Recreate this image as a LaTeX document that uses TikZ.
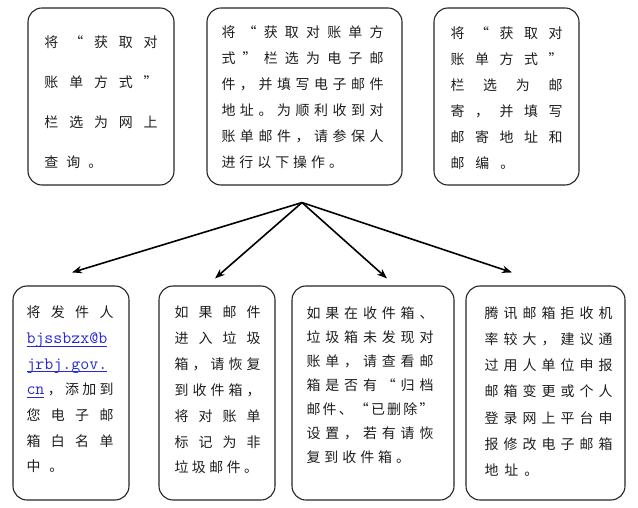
\documentclass[tikz,border=0pt]{standalone}
\usepackage{fontspec}
\setmainfont{Noto Sans CJK SC}
\usetikzlibrary{arrows.meta}
\definecolor{txtcol}{RGB}{30,30,30}
\definecolor{linkcol}{RGB}{40,40,215}
\makeatletter
\def\spl@end{\spl@end}
\newcommand\spl[1]{\leavevmode\hbox to\linewidth{\spl@a#1\spl@end}}
\def\spl@a#1{#1\spl@b}
\def\spl@b#1{\ifx#1\spl@end\else\hfill#1\expandafter\spl@b\fi}
\newcommand\lsp[2]{\leavevmode\def\lsp@k{#1}\lsp@a#2\spl@end}
\def\lsp@a#1{#1\lsp@b}
\def\lsp@b#1{\ifx#1\spl@end\else\kern\lsp@k\relax#1\expandafter\lsp@b\fi}
\makeatother
\newcommand\email[1]{\leavevmode{\color{linkcol}\ttfamily\fontsize{17.5}{25.8}\selectfont\setbox0\hbox{#1}\rlap{\vrule width\wd0 height-2.2pt depth3pt}\box0}}
\begin{document}
\begin{tikzpicture}[x=1bp,y=-1bp,
  box/.style={draw=black!85, line width=1.1bp, rounded corners=14bp, inner sep=0pt},
  txtnode/.style={inner sep=0pt, align=left, text=txtcol},
  arr/.style={line width=1.6bp, draw=black, -{Stealth[length=10bp,width=7.5bp]}}]
\useasboundingbox (0,0) rectangle (638,508);
\fill[white] (0,0) rectangle (638,508);
% boxes
\node[box, minimum width=146bp, minimum height=177bp] (b1) at (101,96.5) {};
\node[box, minimum width=195bp, minimum height=177bp] (b2) at (304.5,96.5) {};
\node[box, minimum width=145bp, minimum height=177bp] (b3) at (506.5,96.5) {};
\node[box, minimum width=116bp, minimum height=214bp] (b4) at (71,393) {};
\node[box, minimum width=116bp, minimum height=214bp] (b5) at (217,393) {};
\node[box, minimum width=162bp, minimum height=214bp] (b6) at (373,393) {};
\node[box, minimum width=159bp, minimum height=214bp] (b7) at (545.5,393) {};
% texts
\node[txtnode, text width=113bp, font=\fontsize{14}{40}\selectfont] (t1) at (101,102) {%
\spl{将“获取对}\\\spl{账单方式”}\\\spl{栏选为网上}\\\lsp{8pt}{查询。}};
\node[txtnode, text width=162bp, font=\fontsize{14}{26}\selectfont] (t2) at (302.5,97) {%
\spl{将“获取对账单方}\\\spl{式”栏选为电子邮}\\\spl{件，并填写电子邮件}\\\spl{地址。为顺利收到对}\\\spl{账单邮件，请参保人}\\\lsp{4pt}{进行以下操作。}};
\node[txtnode, text width=112bp, font=\fontsize{14}{26}\selectfont] (t3) at (506.5,98) {%
\spl{将“获取对}\\\spl{账单方式”}\\\spl{栏选为邮}\\\spl{寄，并填写}\\\spl{邮寄地址和}\\\lsp{11pt}{邮编。}};
\node[txtnode, text width=87bp, font=\fontsize{14}{25.8}\selectfont] (t4) at (70,389.5) {%
\spl{将发件人}\\\email{bjssbzx@b}\\\email{jrbj.gov.}\\\leavevmode\hbox to\linewidth{\email{cn}\hfill，\hfill 添\hfill 加\hfill 到}\\\spl{您电子邮}\\\spl{箱白名单}\\\lsp{9pt}{中。}};
\node[txtnode, text width=86bp, font=\fontsize{14}{26}\selectfont] (t5) at (217.5,390) {%
\spl{如果邮件}\\\spl{进入垃圾}\\\spl{箱，请恢复}\\\spl{到收件箱，}\\\spl{将对账单}\\\spl{标记为非}\\\lsp{3.5pt}{垃圾邮件。}};
\node[txtnode, text width=127bp, font=\fontsize{14}{24}\selectfont] (t6) at (370,385) {%
\spl{如果在收件箱、}\\\spl{垃圾箱未发现对}\\\spl{账单，请查看邮}\\\spl{箱是否有“归档}\\\spl{邮件、“已删除”}\\\spl{设置，若有请恢}\\\lsp{4pt}{复到收件箱。}};
\node[txtnode, text width=128bp, font=\fontsize{14}{26.2}\selectfont] (t7) at (548.5,391.5) {%
\spl{腾讯邮箱拒收机}\\\spl{率较大，建议通}\\\spl{过用人单位申报}\\\spl{邮箱变更或个人}\\\spl{登录网上平台申}\\\spl{报修改电子邮箱}\\\lsp{6pt}{地址。}};
% connectors
\coordinate (apex) at ([shift={(-2.5,17)}]b2.south);
\coordinate (e4) at ([shift={(1,-13)}]b4.north);
\coordinate (e5) at ([shift={(-2,-7)}]b5.north);
\coordinate (e6) at ([shift={(14,-7)}]b6.north);
\coordinate (e7) at ([shift={(-33.5,-13)}]b7.north);
\draw[arr] (apex) -- (e4);
\draw[arr] (apex) -- (e5);
\draw[arr] (apex) -- (e6);
\draw[arr] (apex) -- (e7);
\end{tikzpicture}
\end{document}
